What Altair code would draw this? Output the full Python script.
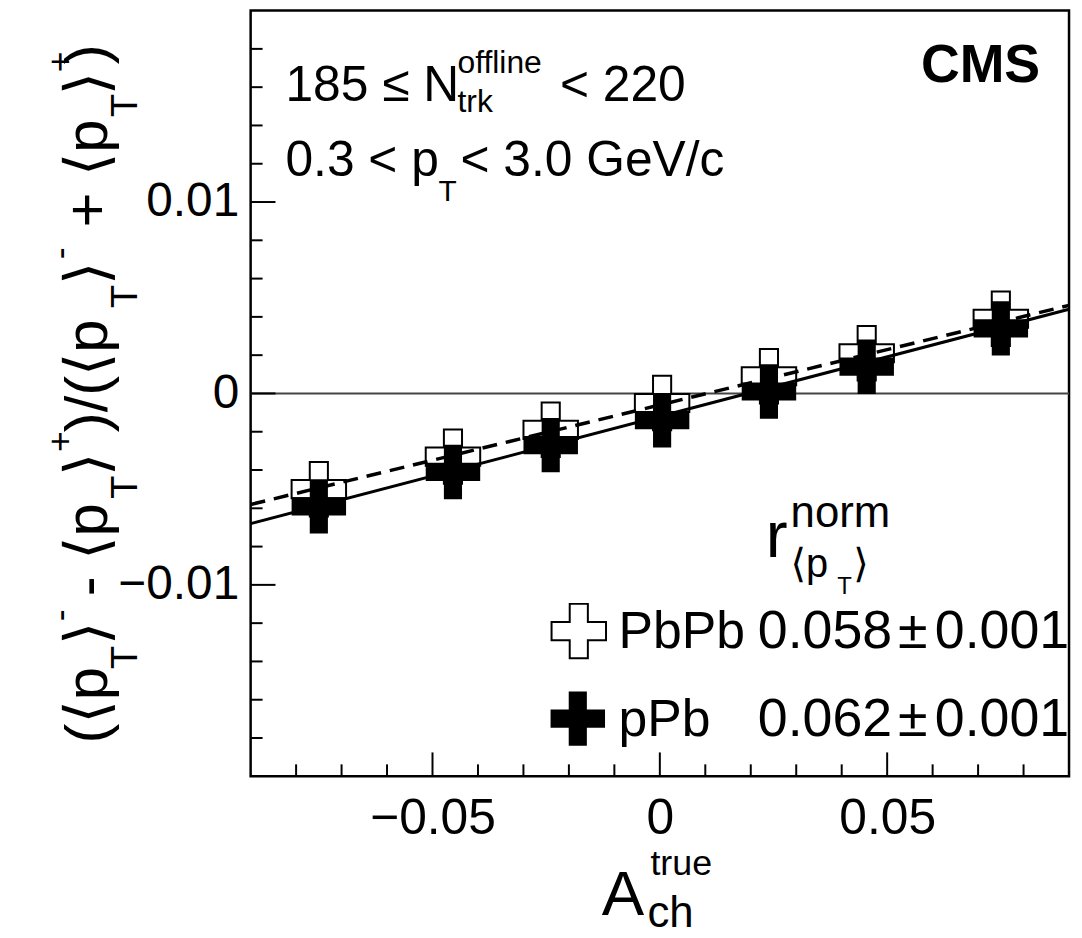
import altair as alt
import pandas as pd

# ---------------- data ----------------
a_ch = [-0.075, -0.0455, -0.024, 0.0005, 0.024, 0.0455, 0.075]
pbpb_y = [-0.0050, -0.0033, -0.0019, -0.0005, 0.0009, 0.0021, 0.0039]
ppb_y = [-0.0059, -0.0041, -0.0027, -0.0014, 0.0001, 0.0014, 0.0034]

fit_x = [-0.09, 0.09]
pbpb_fit_y = [-0.0058, 0.0046]
ppb_fit_y = [-0.0068, 0.0044]

x_major = [-0.05, 0.0, 0.05]
x_minor = [-0.08, -0.07, -0.06, -0.04, -0.03, -0.02, -0.01,
           0.01, 0.02, 0.03, 0.04, 0.06, 0.07, 0.08]
y_major = [-0.01, 0.0, 0.01]
y_minor = [-0.018, -0.016, -0.014, -0.012, -0.008, -0.006, -0.004, -0.002,
           0.002, 0.004, 0.006, 0.008, 0.012, 0.014, 0.016, 0.018]

# ---------------- layout / style ----------------
W, H = 823, 770
OX, OY = 252, 8          # plot origin on the page
FONT = "Liberation Sans, DejaVu Sans"
CROSS = "M-1,-0.333H-0.333V-1H0.333V-0.333H1V0.333H0.333V1H-0.333V0.333H-1Z"

xscale = alt.Scale(domain=[-0.09, 0.09], nice=False, zero=False)
yscale = alt.Scale(domain=[-0.02, 0.02], nice=False, zero=False)
LBL = "datum.value == 0 ? '0' : format(datum.value, '.2f')"
XAX = alt.Axis(values=x_major, labelExpr=LBL, title=None, ticks=False, tickSize=0,
               domain=False, grid=False, labelFont=FONT, labelFontSize=50,
               labelColor="black", labelPadding=18, labelOverlap=False)
YAX = alt.Axis(values=y_major, labelExpr=LBL, title=None, ticks=False, tickSize=0,
               domain=False, grid=False, labelFont=FONT, labelFontSize=48,
               labelColor="black", labelPadding=12, labelOverlap=False)

def X(f):
    return alt.X(f, type="quantitative", scale=xscale, axis=XAX)

def Y(f):
    return alt.Y(f, type="quantitative", scale=yscale, axis=YAX)

one = alt.Data(values=[{}])

def txt(s, x, y, size, angle=0, align="left", weight="normal"):
    return alt.Chart(one).mark_text(
        text=s, font=FONT, fontSize=size, fontWeight=weight, angle=angle,
        align=align, baseline="alphabetic", color="black"
    ).encode(x=alt.value(x - OX), y=alt.value(y - OY))

pts_pbpb = pd.DataFrame({"a": a_ch, "r": pbpb_y})
pts_ppb = pd.DataFrame({"a": a_ch, "r": ppb_y})
fit_pbpb = pd.DataFrame({"a": fit_x, "r": pbpb_fit_y})
fit_ppb = pd.DataFrame({"a": fit_x, "r": ppb_fit_y})

layers = []
# zero line
layers.append(alt.Chart(pd.DataFrame({"r": [0.0]})).mark_rule(color="#444", strokeWidth=2)
              .encode(y=Y("r")))
# ticks (inward, left + bottom)
layers.append(alt.Chart(pd.DataFrame({"v": x_minor})).mark_rule(color="black", strokeWidth=2)
              .encode(x=X("v"), y=alt.value(H), y2=alt.value(H - 12)))
layers.append(alt.Chart(pd.DataFrame({"v": x_major})).mark_rule(color="black", strokeWidth=2)
              .encode(x=X("v"), y=alt.value(H), y2=alt.value(H - 24)))
layers.append(alt.Chart(pd.DataFrame({"v": y_minor})).mark_rule(color="black", strokeWidth=2)
              .encode(y=Y("v"), x=alt.value(0), x2=alt.value(12)))
layers.append(alt.Chart(pd.DataFrame({"v": y_major})).mark_rule(color="black", strokeWidth=2)
              .encode(y=Y("v"), x=alt.value(0), x2=alt.value(25)))
# markers
layers.append(alt.Chart(pts_pbpb).mark_point(shape=CROSS, size=3000, filled=True, fill="white",
                                             stroke="black", strokeWidth=2, opacity=1)
              .encode(x=X("a"), y=Y("r")))
layers.append(alt.Chart(pts_ppb).mark_point(shape=CROSS, size=3000, filled=True, color="black",
                                            opacity=1)
              .encode(x=X("a"), y=Y("r")))
# fits
layers.append(alt.Chart(fit_ppb).mark_line(color="black", strokeWidth=3)
              .encode(x=X("a"), y=Y("r")))
layers.append(alt.Chart(fit_pbpb).mark_line(color="black", strokeWidth=3.5, strokeDash=[15, 9])
              .encode(x=X("a"), y=Y("r")))

# legend symbols
layers.append(alt.Chart(one).mark_point(shape=CROSS, size=3000, filled=True, fill="white",
                                        stroke="black", strokeWidth=2, opacity=1)
              .encode(x=alt.value(582 - OX), y=alt.value(632 - OY)))
layers.append(alt.Chart(one).mark_point(shape=CROSS, size=3000, filled=True, color="black",
                                        opacity=1)
              .encode(x=alt.value(581 - OX), y=alt.value(720 - OY)))

# ---------------- texts ----------------
texts = [
    txt("185 \u2264 N", 287, 99, 50),
    txt("trk", 460, 110, 32),
    txt("offline", 460, 71, 32),
    txt("< 220", 563, 99, 50),
    txt("0.3 < p", 287, 174, 50),
    txt("T", 441, 199, 30),
    txt("< 3.0 GeV/c", 463, 174, 50),
    txt("CMS", 1046, 80, 54, align="right", weight="bold"),
    # legend header
    txt("r", 770, 557, 66),
    txt("norm", 795, 527, 44),
    txt("\u27e8p", 795, 578, 40),
    txt("T", 842, 595, 24),
    txt("\u27e9", 858, 578, 40),
    # legend entries
    txt("PbPb", 622, 649, 52),
    txt("0.058", 762, 649, 54),
    txt("\u00b1", 903, 649, 54),
    txt("0.001", 940, 649, 54),
    txt("pPb", 622, 737, 52),
    txt("0.062", 762, 737, 54),
    txt("\u00b1", 903, 737, 54),
    txt("0.001", 940, 737, 54),
    # x title
    txt("A", 605, 917, 64),
    txt("ch", 651, 930, 44),
    txt("true", 654, 877, 36),
]

# y title: rotated pieces (text, kind, start y from bottom)
MAIN_X, SUB_X, SUP_X = 108, 138, 72
ypieces = [
    ("(\u27e8p", "m", 745), ("T", "b", 670), ("\u27e9", "m", 646), ("-", "p", 622),
    ("- \u27e8p", "m", 597), ("T", "b", 499), ("\u27e9", "m", 476), ("+", "p", 452),
    (")/(\u27e8p", "m", 432), ("T", "b", 307), ("\u27e9", "m", 284), ("-", "p", 258),
    ("+ \u27e8p", "m", 226), ("T", "b", 115), ("\u27e9", "m", 93), ("+", "p", 70),
    (")", "m", 62),
]
for s, k, yy in ypieces:
    if k == "m":
        texts.append(txt(s, MAIN_X, yy, 60, angle=270))
    elif k == "b":
        texts.append(txt(s, SUB_X, yy, 38, angle=270))
    else:
        texts.append(txt(s, SUP_X, yy, 36, angle=270))

chart = alt.layer(*layers, *texts).properties(
    width=W, height=H, autosize="none",
    padding={"left": OX - 8, "top": OY - 8, "right": 5, "bottom": 160},
    background="white",
).configure_view(stroke="black", strokeWidth=2.5)

chart.save("out.html", embed_options={"renderer": "svg", "actions": False})
